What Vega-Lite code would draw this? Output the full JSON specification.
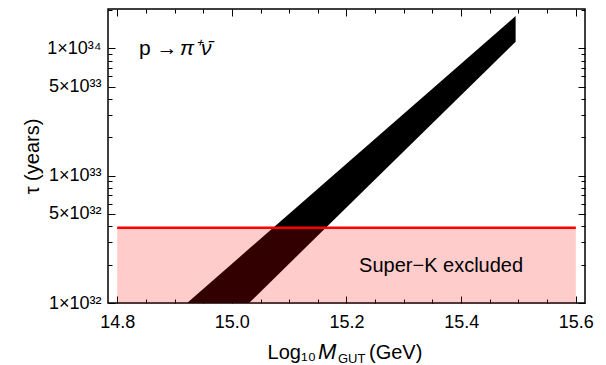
{
  "$schema": "https://vega.github.io/schema/vega-lite/v6.json",
  "width": 477,
  "height": 294,
  "autosize": {"type": "none"},
  "padding": {"left": 108, "top": 9, "right": 21, "bottom": 62},
  "background": "white",
  "config": {
    "view": {"stroke": "black", "strokeWidth": 1.5},
    "axis": {"domain": false, "grid": false, "tickColor": "black", "labelColor": "black", "labelFont": "Liberation Sans", "titleFont": "Liberation Sans", "titleColor": "black", "titleFontWeight": "normal", "tickWidth": 1},
    "text": {"font": "Liberation Sans", "color": "black"}
  },
  "resolve": {"axis": {"x": "independent", "y": "independent"}},
  "layer": [
    {
      "data": {"values": [
        {"x": 14.922, "lo": 1e32, "hi": 1e32},
        {"x": 15.030, "lo": 1e32, "hi": 2.66e32},
        {"x": 15.495, "lo": 1.125e34, "hi": 1.79e34}
      ]},
      "mark": {"type": "area", "color": "black", "opacity": 1},
      "encoding": {
        "x": {"field": "x", "type": "quantitative",
          "scale": {"domain": [14.784, 15.616], "nice": false, "zero": false},
          "axis": {"orient": "bottom", "title": null,
            "values": [14.8, 14.85, 14.9, 14.95, 15.0, 15.05, 15.1, 15.15, 15.2, 15.25, 15.3, 15.35, 15.4, 15.45, 15.5, 15.55, 15.6],
            "labelExpr": "indexof([14.8,15,15.2,15.4,15.6], datum.value) >= 0 ? format(datum.value, '.1f') : ''",
            "tickSize": {"condition": {"test": "indexof([14.8,15,15.2,15.4,15.6], datum.value) >= 0", "value": -7}, "value": -4},
            "labelPadding": 17, "labelFontSize": 18, "labelFlush": false}},
        "y": {"field": "hi", "type": "quantitative",
          "scale": {"type": "log", "domain": [1e32, 2.03e34], "nice": false},
          "axis": {"orient": "left", "title": "τ (years)", "titleFontSize": 20, "titlePadding": 4,
            "values": [1e32, 2e32, 3e32, 4e32, 5e32, 6e32, 7e32, 8e32, 9e32, 1e33, 2e33, 3e33, 4e33, 5e33, 6e33, 7e33, 8e33, 9e33, 1e34, 2e34],
            "labelExpr": "datum.value == 1e32 ? '1×10³²' : datum.value == 5e32 ? '5×10³²' : datum.value == 1e33 ? '1×10³³' : datum.value == 5e33 ? '5×10³³' : datum.value == 1e34 ? '1×10³⁴' : ''",
            "tickSize": {"condition": {"test": "indexof([1e32,5e32,1e33,5e33,1e34], datum.value) >= 0", "value": -7}, "value": -4},
            "labelPadding": 14, "labelFontSize": 18, "labelFlush": false}},
        "y2": {"field": "lo"}
      }
    },
    {
      "data": {"values": [{"x1": 14.8, "x2": 15.6, "y1": 1e32, "y2": 3.9e32}]},
      "mark": {"type": "rect", "color": "red", "opacity": 0.2},
      "encoding": {
        "x": {"field": "x1", "type": "quantitative",
          "axis": {"orient": "top", "title": null, "labels": false,
            "values": [14.8, 14.85, 14.9, 14.95, 15.0, 15.05, 15.1, 15.15, 15.2, 15.25, 15.3, 15.35, 15.4, 15.45, 15.5, 15.55, 15.6],
            "tickSize": {"condition": {"test": "indexof([14.8,15,15.2,15.4,15.6], datum.value) >= 0", "value": -7}, "value": -4}}},
        "x2": {"field": "x2"},
        "y": {"field": "y1", "type": "quantitative",
          "axis": {"orient": "right", "title": null, "labels": false,
            "values": [1e32, 2e32, 3e32, 4e32, 5e32, 6e32, 7e32, 8e32, 9e32, 1e33, 2e33, 3e33, 4e33, 5e33, 6e33, 7e33, 8e33, 9e33, 1e34, 2e34],
            "tickSize": {"condition": {"test": "indexof([1e32,5e32,1e33,5e33,1e34], datum.value) >= 0", "value": -7}, "value": -4}}},
        "y2": {"field": "y2"}
      }
    },
    {
      "data": {"values": [{"x1": 14.8, "x2": 15.6, "y": 3.9e32}]},
      "mark": {"type": "rule", "color": "#ff0000", "strokeWidth": 2.5},
      "encoding": {
        "x": {"field": "x1", "type": "quantitative", "axis": null},
        "x2": {"field": "x2"},
        "y": {"field": "y", "type": "quantitative", "axis": null}
      }
    },
    {
      "data": {"values": [{"x": 14.838, "y": 8.84e33, "t": "p → "}]},
      "mark": {"type": "text", "align": "left", "baseline": "alphabetic", "fontSize": 21},
      "encoding": {
        "x": {"field": "x", "type": "quantitative", "axis": null},
        "y": {"field": "y", "type": "quantitative", "axis": null},
        "text": {"field": "t"}
      }
    },
    {
      "data": {"values": [{"x": 14.9096, "y": 8.84e33, "t": "π⁺ν̄"}]},
      "mark": {"type": "text", "align": "left", "baseline": "alphabetic", "fontSize": 21, "fontStyle": "italic"},
      "encoding": {
        "x": {"field": "x", "type": "quantitative", "axis": null},
        "y": {"field": "y", "type": "quantitative", "axis": null},
        "text": {"field": "t"}
      }
    },
    {
      "data": {"values": [{"x": 15.365, "y": 1.75e32, "t": "Super−K excluded"}]},
      "mark": {"type": "text", "align": "center", "baseline": "alphabetic", "fontSize": 20},
      "encoding": {
        "x": {"field": "x", "type": "quantitative", "axis": null},
        "y": {"field": "y", "type": "quantitative", "axis": null},
        "text": {"field": "t"}
      }
    },
    {
      "data": {"values": [{"x": 15.1468, "y": 3.63e31, "t": "Log₁₀"}]},
      "mark": {"type": "text", "align": "right", "baseline": "alphabetic", "fontSize": 20},
      "encoding": {
        "x": {"field": "x", "type": "quantitative", "axis": null},
        "y": {"field": "y", "type": "quantitative", "axis": null},
        "text": {"field": "t"}
      }
    },
    {
      "data": {"values": [{"x": 15.2392, "y": 3.63e31, "t": "(GeV)"}]},
      "mark": {"type": "text", "align": "left", "baseline": "alphabetic", "fontSize": 20},
      "encoding": {
        "x": {"field": "x", "type": "quantitative", "axis": null},
        "y": {"field": "y", "type": "quantitative", "axis": null},
        "text": {"field": "t"}
      }
    },
    {
      "data": {"values": [{"x": 15.1503, "y": 3.63e31, "t": "M"}]},
      "mark": {"type": "text", "align": "left", "baseline": "alphabetic", "fontSize": 22, "fontStyle": "italic"},
      "encoding": {
        "x": {"field": "x", "type": "quantitative", "axis": null},
        "y": {"field": "y", "type": "quantitative", "axis": null},
        "text": {"field": "t"}
      }
    },
    {
      "data": {"values": [{"x": 15.185, "y": 3.41e31, "t": "GUT"}]},
      "mark": {"type": "text", "align": "left", "baseline": "alphabetic", "fontSize": 13},
      "encoding": {
        "x": {"field": "x", "type": "quantitative", "axis": null},
        "y": {"field": "y", "type": "quantitative", "axis": null},
        "text": {"field": "t"}
      }
    }
  ]
}
